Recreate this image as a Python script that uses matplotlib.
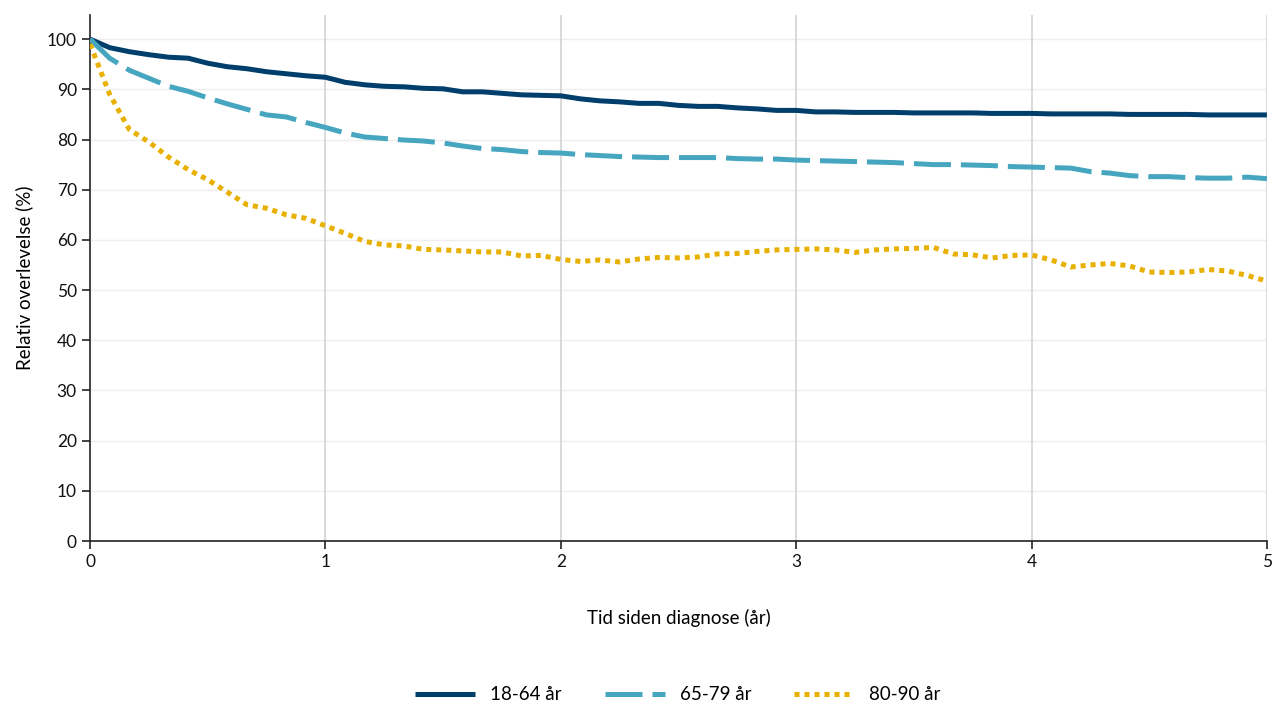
import numpy as np
import matplotlib.pyplot as plt

plt.rcParams['font.family'] = ['Lato', 'DejaVu Sans']

# monthly points, 0..5 years
months = np.arange(61)
years = months / 12

surv_18_64 = [100, 98.3, 97.5, 96.9, 96.4, 96.2, 95.2, 94.5, 94.1, 93.5, 93.1, 92.7,
              92.4, 91.4, 90.9, 90.6, 90.5, 90.2, 90.1, 89.5, 89.5, 89.2, 88.9, 88.8,
              88.7, 88.1, 87.7, 87.5, 87.2, 87.2, 86.8, 86.6, 86.6, 86.3, 86.1, 85.8,
              85.8, 85.5, 85.5, 85.4, 85.4, 85.4, 85.3, 85.3, 85.3, 85.3, 85.2, 85.2,
              85.2, 85.1, 85.1, 85.1, 85.1, 85.0, 85.0, 85.0, 85.0, 84.9, 84.9, 84.9, 84.9]

surv_65_79 = [100, 96.2, 93.8, 92.2, 90.6, 89.6, 88.3, 87.1, 86.0, 84.9, 84.5, 83.4,
              82.4, 81.3, 80.5, 80.2, 79.9, 79.7, 79.3, 78.7, 78.2, 78.0, 77.6, 77.4,
              77.3, 77.0, 76.8, 76.6, 76.5, 76.4, 76.4, 76.4, 76.4, 76.2, 76.1, 76.1,
              75.9, 75.8, 75.7, 75.6, 75.5, 75.4, 75.2, 75.0, 75.0, 74.9, 74.8, 74.6,
              74.5, 74.4, 74.3, 73.6, 73.3, 72.8, 72.6, 72.6, 72.4, 72.3, 72.3, 72.5, 72.2]

surv_80_90 = [99.0, 89.0, 82.0, 79.5, 76.5, 74.0, 72.0, 69.5, 67.0, 66.3, 65.0, 64.3,
              62.8, 61.3, 59.7, 59.0, 58.8, 58.1, 58.0, 57.8, 57.6, 57.6, 56.8, 56.9,
              56.1, 55.7, 56.0, 55.6, 56.2, 56.5, 56.4, 56.6, 57.2, 57.3, 57.7, 58.0,
              58.1, 58.2, 58.0, 57.5, 58.0, 58.2, 58.3, 58.5, 57.2, 57.0, 56.4, 56.9,
              57.0, 56.0, 54.6, 55.0, 55.3, 54.8, 53.6, 53.5, 53.6, 54.1, 53.8, 52.9, 51.8]

labels = ['18-64 år', '65-79 år', '80-90 år']

fig = plt.figure(figsize=(12.72, 7.06), dpi=100)
ax = fig.add_axes([0.0708, 0.2337, 0.9252, 0.745])

ax.plot(years, surv_18_64, color='#003f6b', lw=3.6, solid_capstyle='butt',
        label=labels[0], zorder=3)
ax.plot(years, surv_65_79, color='#46a6bf', lw=3.6, linestyle=(0, (7.4, 2)),
        dash_capstyle='butt', label=labels[1], zorder=3)
ax.plot(years, surv_80_90, color='#e8b000', lw=3.6, linestyle=(0, (1, 1)),
        dash_capstyle='butt', label=labels[2], zorder=3)

ax.set_xlim(0, 5)
ax.set_ylim(0, 104.8)
ax.set_xticks(range(0, 6))
ax.set_yticks(range(0, 101, 10))

for y in range(10, 101, 10):
    ax.axhline(y, color='#eeeeee', lw=1, zorder=0)
for x in range(1, 6):
    ax.axvline(x, color='#d3d3d3', lw=1.2, zorder=0)

for side in ['top', 'right']:
    ax.spines[side].set_visible(False)
ax.spines['left'].set_color('#222222')
ax.spines['bottom'].set_color('#222222')
ax.spines['left'].set_linewidth(1.2)
ax.spines['bottom'].set_linewidth(1.2)
ax.tick_params(direction='out', length=6, width=1.2, color='#222222',
               labelsize=12.5, labelcolor='#111111')

ax.set_xlabel('Tid siden diagnose (år)', fontsize=13.5, labelpad=28)
ax.set_ylabel('Relativ overlevelse (%)', fontsize=13.5, labelpad=10)

fig.legend(loc='center', bbox_to_anchor=(0.533, 0.016), ncol=3, frameon=False,
           fontsize=13.5, handlelength=3.2, handletextpad=0.8, columnspacing=2.3)

fig.savefig('out.png', dpi=100)
